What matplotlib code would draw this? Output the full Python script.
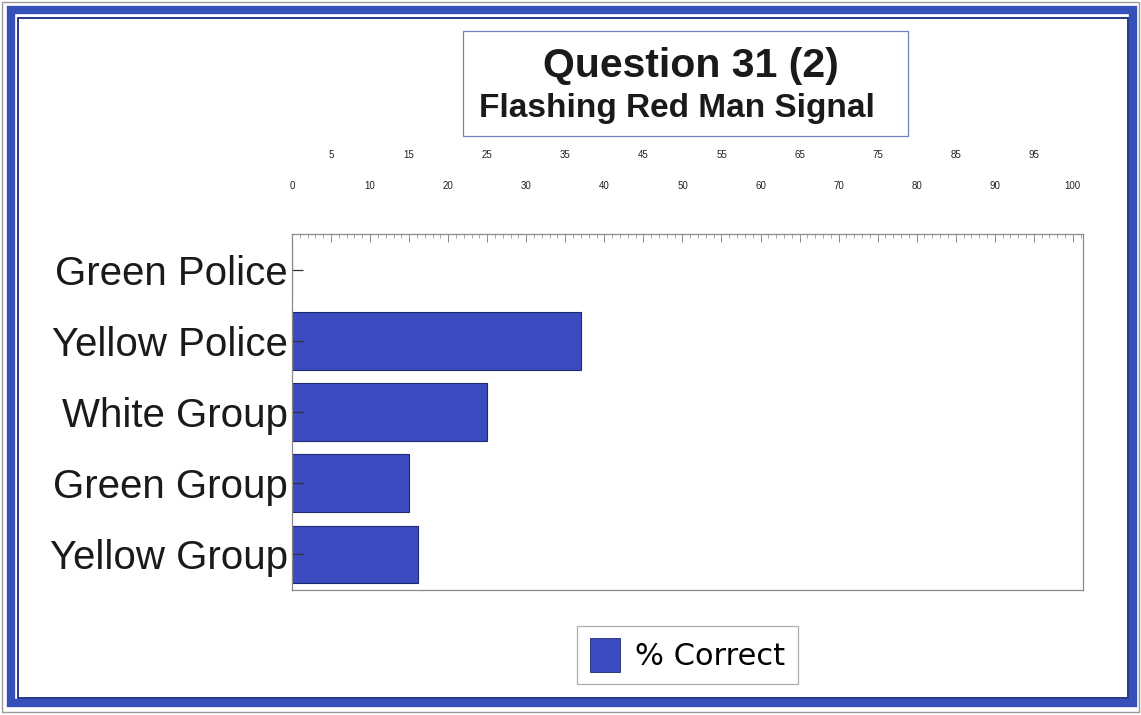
import matplotlib
matplotlib.use("Agg")
import matplotlib.pyplot as plt
from matplotlib.patches import Rectangle, Patch
from matplotlib.ticker import MultipleLocator

# data
categories = ["Green Police", "Yellow Police", "White Group", "Green Group", "Yellow Group"]
pct_correct = [0, 37, 25, 15, 16.2]
major_labels = [0, 10, 20, 30, 40, 50, 60, 70, 80, 90, 100]
offset_labels = [5, 15, 25, 35, 45, 55, 65, 75, 85, 95]

W, H = 1141, 715
BAR_COLOR = "#3a4cc0"


def fx(x):
    return x / W


def fy(y):
    return 1 - y / H


def frame_rect(fig, x0, y0, x1, y1, **kw):
    """Rectangle given in pixel coords of the reference (top-left origin)"""
    r = Rectangle((fx(x0), fy(y1)), fx(x1) - fx(x0), fy(y0) - fy(y1),
                  transform=fig.transFigure, fill=False, **kw)
    fig.patches.append(r)
    return r


fig = plt.figure(figsize=(W / 100, H / 100), dpi=100)
fig.patch.set_facecolor("white")

# page border: grey hairline, thick blue band, thin dark line
frame_rect(fig, 2, 2, 1139, 712, edgecolor="#9a9a9a", linewidth=1)
frame_rect(fig, 11, 9.5, 1132.5, 703, edgecolor="#3550b8", linewidth=6)
frame_rect(fig, 18, 18, 1127.5, 697.5, edgecolor="#26368a", linewidth=1.4)

# title box
frame_rect(fig, 463, 31, 908, 136, edgecolor="#7080c0", linewidth=0.9)
fig.text(fx(691), fy(66), "Question 31 (2)", ha="center", va="center",
         fontsize=29.5, fontweight="bold", family="Liberation Sans", color="#1a1a1a")
fig.text(fx(677), fy(109), "Flashing Red Man Signal", ha="center", va="center",
         fontsize=24, fontweight="bold", family="Liberation Sans", color="#1a1a1a")

ax = fig.add_axes([fx(292), fy(590), fx(1083) - fx(292), fy(234) - fy(590)])
ypos = list(range(len(categories)))
ax.barh(ypos, pct_correct, height=0.81, color=BAR_COLOR, edgecolor="#1e2a70",
        linewidth=0.8, label="% Correct")
ax.set_xlim(0, 101.3)
ax.set_ylim(len(categories) - 0.5, -0.5)

for s in ax.spines.values():
    s.set_color("#8a8a8a")
    s.set_linewidth(0.9)

ax.set_yticks(ypos)
ax.set_yticklabels(categories, fontsize=29, family="Liberation Sans", color="#1a1a1a")
ax.tick_params(axis="y", direction="in", length=8, width=0.9, color="#333333", pad=3)

# top axis: 0..100 row, minor ticks every unit
ax.xaxis.tick_top()
ax.set_xticks(major_labels)
ax.set_xticklabels([str(v) for v in major_labels])
ax.xaxis.set_minor_locator(MultipleLocator(1))
ax.tick_params(axis="x", which="major", direction="in", length=6, width=0.7,
               color="#8a8a8a", labelsize=7, pad=31, labelcolor="#222222")
ax.tick_params(axis="x", which="minor", direction="in", length=3, width=0.6,
               color="#9a9a9a")
for lbl in ax.get_xticklabels():
    lbl.set_family("Liberation Sans")

# second staggered row: 5, 15, ... 95
sec = ax.secondary_xaxis("top")
sec.set_xticks(offset_labels)
sec.set_xticklabels([str(v) for v in offset_labels])
sec.tick_params(axis="x", direction="in", length=6, width=0.7, color="#8a8a8a",
                labelsize=7, pad=53, labelcolor="#222222")
sec.spines["top"].set_visible(False)
for lbl in sec.get_xticklabels():
    lbl.set_family("Liberation Sans")

leg = ax.legend(handles=[Patch(facecolor=BAR_COLOR, edgecolor="#1e2a70", linewidth=0.6,
                               label="% Correct")],
                loc="center", bbox_to_anchor=(fx(687.5), fy(655)),
                bbox_transform=fig.transFigure, fontsize=22, frameon=True,
                fancybox=False, handlelength=1.0, handleheight=1.3,
                handletextpad=0.5, borderpad=0.42, borderaxespad=0)
leg.get_frame().set_edgecolor("#9a9a9a")
leg.get_frame().set_linewidth(0.9)
for t in leg.get_texts():
    t.set_family("DejaVu Sans")

fig.savefig("out.png", dpi=100)
